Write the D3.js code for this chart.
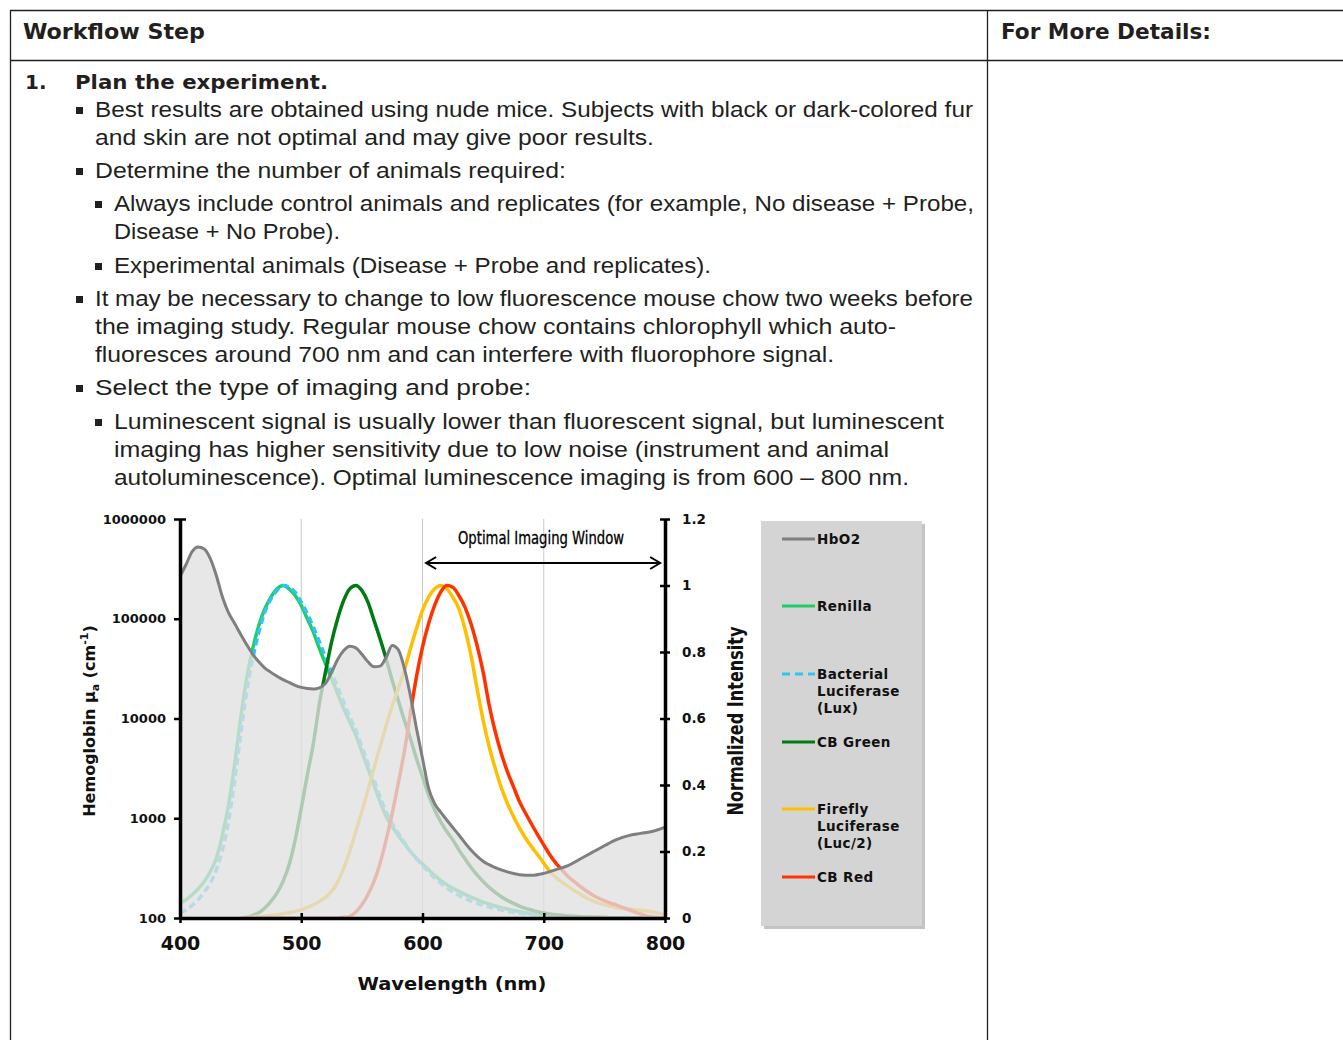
<!DOCTYPE html>
<html>
<head>
<meta charset="utf-8">
<script src="https://cdn.jsdelivr.net/npm/d3@7"></script>
<style>
  body { margin: 0; background: #fff; }
</style>
</head>
<body>
<svg id="page" width="1343" height="1040"></svg>
<script>
// ---- document text ----
const headerLabels = ["Workflow Step", "For More Details:"];
const stepNumber = "1.";
const stepTitle = "Plan the experiment.";
const bodyLines = [
  "Best results are obtained using nude mice. Subjects with black or dark-colored fur",
  "and skin are not optimal and may give poor results.",
  "Determine the number of animals required:",
  "Always include control animals and replicates (for example, No disease + Probe,",
  "Disease + No Probe).",
  "Experimental animals (Disease + Probe and replicates).",
  "It may be necessary to change to low fluorescence mouse chow two weeks before",
  "the imaging study. Regular mouse chow contains chlorophyll which auto-",
  "fluoresces around 700 nm and can interfere with fluorophore signal.",
  "Select the type of imaging and probe:",
  "Luminescent signal is usually lower than fluorescent signal, but luminescent",
  "imaging has higher sensitivity due to low noise (instrument and animal",
  "autoluminescence). Optimal luminescence imaging is from 600 \u2013 800 nm."
];
// bullet level of each line (0 = continuation line)
const bodyBullets = [1, 0, 1, 2, 0, 2, 1, 0, 0, 1, 2, 0, 0];

// ---- chart data ----
const xTicks = [400, 500, 600, 700, 800];
const gridWavelengths = [500, 600, 700];
const absTicks = [100, 1000, 10000, 100000, 1000000];
const intTicks = [0, 0.2, 0.4, 0.6, 0.8, 1, 1.2];
const intTickLabels = ["0", "0.2", "0.4", "0.6", "0.8", "1", "1.2"];

// HbO2 absorption (cm^-1), log axis
const hbo2Wl = [400,405,410,415,420,425,430,435,440,445,450,455,460,465,470,475,480,485,490,495,
  500,505,510,515,520,525,530,535,540,545,550,555,560,565,570,575,580,585,590,595,
  600,605,610,615,620,630,640,650,660,670,680,690,700,710,720,730,740,750,760,770,780,790,800];
const hbo2Abs = [266000,350000,470000,524000,500000,400000,270000,165000,115000,90000,70000,55000,44000,37000,32000,29000,26500,24500,23000,21500,
  20500,20000,19800,20300,22500,29000,39000,48000,53000,51000,44000,37000,33000,33500,41000,54000,49000,32000,17000,8000,
  4000,2000,1400,1150,960,680,480,370,320,290,272,268,280,305,335,390,455,530,610,670,705,740,815];

// emission spectra (normalized), sampled every 5 nm
const emWl = [400,405,410,415,420,425,430,435,440,445,450,455,460,465,470,475,480,485,490,495,
  500,505,510,515,520,525,530,535,540,545,550,555,560,565,570,575,580,585,590,595,
  600,605,610,615,620,625,630,635,640,645,650,655,660,665,670,675,680,685,690,695,
  700,705,710,715,720,725,730,735,740,745,750,755,760,765,770,775,780,785,790,795,800];
const renilla = [0.045,0.055,0.07,0.088,0.11,0.14,0.18,0.25,0.34,0.46,0.6,0.72,0.81,0.88,0.93,0.965,0.99,1.0,0.99,0.97,
  0.94,0.9,0.86,0.81,0.765,0.72,0.675,0.63,0.59,0.55,0.5,0.45,0.4,0.35,0.305,0.275,0.248,0.224,0.2,0.18,
  0.162,0.145,0.128,0.113,0.1,0.09,0.08,0.071,0.063,0.055,0.048,0.042,0.036,0.031,0.027,0.023,0.019,0.016,0.013,0.011,
  0.009,0.007,0.006,0.005,0.004,0.003,0.003,0.002,0.002,0.002,0.001,0.001,0.001,0.001,0.001,0,0,0,0,0,0];
const lux = [0.015,0.025,0.038,0.055,0.078,0.105,0.145,0.205,0.29,0.41,0.55,0.68,0.78,0.86,0.92,0.96,0.985,1.0,0.995,0.98,
  0.95,0.915,0.875,0.83,0.785,0.74,0.695,0.65,0.605,0.565,0.515,0.465,0.415,0.365,0.32,0.285,0.255,0.228,0.2,0.178,
  0.158,0.138,0.12,0.104,0.09,0.078,0.068,0.059,0.051,0.044,0.038,0.033,0.028,0.024,0.02,0.017,0.014,0.012,0.01,0.008,
  0.006,0.005,0.004,0.003,0.003,0.002,0.002,0.001,0.001,0.001,0,0,0,0,0,0,0,0,0,0,0];
const cbGreen = [null,null,null,null,null,null,null,null,null,null,0,0.002,0.008,0.016,0.03,0.05,0.075,0.11,0.16,0.235,
  0.33,0.43,0.525,0.645,0.74,0.83,0.9,0.955,0.99,1.0,0.985,0.95,0.895,0.84,0.78,0.715,0.655,0.595,0.54,0.48,
  0.425,0.37,0.325,0.29,0.26,0.235,0.205,0.178,0.152,0.13,0.11,0.092,0.077,0.064,0.053,0.044,0.036,0.029,0.024,0.019,
  0.015,0.012,0.01,0.008,0.006,0.005,0.004,0.003,0.003,0.002,0.002,0.001,0.001,0,0,0,0,0,0,0,0];
const firefly = [null,null,null,null,null,null,null,null,null,null,0,0.002,0.003,0.005,0.006,0.008,0.01,0.013,0.016,0.02,
  0.025,0.032,0.04,0.05,0.062,0.08,0.108,0.15,0.2,0.26,0.32,0.385,0.45,0.515,0.578,0.638,0.69,0.745,0.81,0.87,
  0.925,0.965,0.99,1.0,0.99,0.965,0.93,0.87,0.79,0.69,0.595,0.515,0.45,0.392,0.345,0.305,0.27,0.24,0.214,0.19,
  0.165,0.14,0.122,0.108,0.095,0.083,0.072,0.061,0.052,0.045,0.04,0.035,0.031,0.029,0.027,0.025,0.023,0.021,0.018,0.014,0.01];
const cbRed = [null,null,null,null,null,null,null,null,null,null,0,0,0,0,0,0,0,0,0,0,
  0,0,0,0,0,0,0,0.002,0.005,0.018,0.04,0.07,0.11,0.165,0.235,0.315,0.405,0.5,0.615,0.725,
  0.815,0.885,0.94,0.98,1.0,0.995,0.97,0.935,0.885,0.82,0.74,0.64,0.56,0.495,0.44,0.395,0.35,0.315,0.282,0.25,
  0.22,0.19,0.165,0.145,0.125,0.11,0.095,0.082,0.07,0.06,0.052,0.045,0.039,0.032,0.025,0.018,0.012,0.006,0.003,0.001,0];

const seriesNames = ["HbO2", "Renilla", "Bacterial Luciferase (Lux)", "CB Green", "Firefly Luciferase (Luc/2)", "CB Red"];
const legendLines = [["HbO2"], ["Renilla"], ["Bacterial", "Luciferase", "(Lux)"], ["CB Green"], ["Firefly", "Luciferase", "(Luc/2)"], ["CB Red"]];
const seriesColors = ["#7f7f7f", "#1fcc68", "#2ec5f5", "#007a12", "#ffbf00", "#ff3300"];

// ---- page ----
const svg = d3.select("#page");
svg.append("rect").attr("width", 1343).attr("height", 1040).attr("fill", "#fff");

const ink = "#231f20";
const borders = svg.append("g").attr("stroke", ink).attr("stroke-width", 1.3);
borders.append("line").attr("x1", 10).attr("x2", 1343).attr("y1", 10.5).attr("y2", 10.5);
borders.append("line").attr("x1", 10).attr("x2", 1343).attr("y1", 60.5).attr("y2", 60.5);
borders.append("line").attr("x1", 10.5).attr("x2", 10.5).attr("y1", 10).attr("y2", 1040);
borders.append("line").attr("x1", 987.5).attr("x2", 987.5).attr("y1", 10).attr("y2", 1040);

const narrow = "'Liberation Sans Narrow', 'Arial Narrow', 'DejaVu Sans Condensed', sans-serif";
svg.append("text").attr("x", 23).attr("y", 39).attr("font-family", narrow).attr("font-weight", "bold")
  .attr("font-size", 22).attr("fill", ink).attr("textLength", 182).attr("lengthAdjust", "spacingAndGlyphs")
  .text(headerLabels[0]);
svg.append("text").attr("x", 1001).attr("y", 39).attr("font-family", narrow).attr("font-weight", "bold")
  .attr("font-size", 22).attr("fill", ink).attr("textLength", 210).attr("lengthAdjust", "spacingAndGlyphs")
  .text(headerLabels[1]);

svg.append("text").attr("x", 25).attr("y", 89).attr("font-family", "'DejaVu Sans', Verdana, sans-serif")
  .attr("font-weight", "bold").attr("font-size", 20).attr("fill", ink).text(stepNumber);
svg.append("text").attr("x", 75).attr("y", 89).attr("font-family", "'DejaVu Sans', Verdana, sans-serif")
  .attr("font-weight", "bold").attr("font-size", 20).attr("fill", ink)
  .attr("textLength", 253).attr("lengthAdjust", "spacingAndGlyphs").text(stepTitle);

// layout of body lines: [x, baseline, width]
const bodyLayout = [
  [95, 117, 878], [95, 145, 559], [95, 178, 471], [114, 211, 860], [114, 239, 226], [114, 273, 597],
  [95, 306, 878], [95, 334, 801], [95, 362, 739], [95, 395, 436], [114, 429, 830], [114, 457, 775], [114, 485, 795]
];
const body = svg.append("g").attr("font-family", "'Liberation Sans', Arial, sans-serif")
  .attr("font-size", 21.5).attr("fill", ink);
bodyLines.forEach((t, i) => {
  const [lx, ly, lw] = bodyLayout[i];
  body.append("text").attr("x", lx).attr("y", ly).attr("textLength", lw)
    .attr("lengthAdjust", "spacingAndGlyphs").text(t);
  if (bodyBullets[i]) {
    body.append("rect").attr("x", lx - 19).attr("y", ly - 10).attr("width", 7).attr("height", 7).attr("fill", ink);
  }
});

// ---- chart ----
const x = d3.scaleLinear().domain([400, 800]).range([180, 665]);
const yAbs = d3.scaleLog().domain([100, 1000000]).range([918, 519]);
const yInt = d3.scaleLinear().domain([0, 1.2]).range([918, 519]);
const bold = "'DejaVu Sans', Verdana, sans-serif";

const chart = svg.append("g");

chart.selectAll(".grid").data(gridWavelengths).join("line")
  .attr("class", "grid")
  .attr("x1", d => x(d)).attr("x2", d => x(d))
  .attr("y1", yInt(1.2)).attr("y2", yInt(0))
  .attr("stroke", "#c8c8c8").attr("stroke-width", 1);

const hbo2 = hbo2Wl.map((w, i) => ({ w, v: hbo2Abs[i] }));
const emission = [renilla, lux, cbGreen, firefly, cbRed].map((vals, k) => ({
  name: seriesNames[k + 1],
  color: seriesColors[k + 1],
  dashed: k === 1,
  pts: emWl.map((w, i) => ({ w, v: vals[i] }))
}));

const emLine = d3.line()
  .defined(d => d.v !== null)
  .x(d => x(d.w)).y(d => yInt(d.v))
  .curve(d3.curveMonotoneX);

chart.selectAll(".em").data(emission).join("path")
  .attr("class", "em")
  .attr("d", d => emLine(d.pts))
  .attr("fill", "none")
  .attr("stroke", d => d.color)
  .attr("stroke-width", 3.5)
  .attr("stroke-dasharray", d => d.dashed ? "7,4" : null);

// absorption area sits over the emission curves, washing them out
const hbArea = d3.area()
  .x(d => x(d.w)).y0(yAbs(100)).y1(d => yAbs(d.v))
  .curve(d3.curveMonotoneX);
chart.append("path").attr("d", hbArea(hbo2)).attr("fill", "#e0e0e0").attr("fill-opacity", 0.78);

const hbLine = d3.line().x(d => x(d.w)).y(d => yAbs(d.v)).curve(d3.curveMonotoneX);
chart.append("path").attr("d", hbLine(hbo2)).attr("fill", "none")
  .attr("stroke", seriesColors[0]).attr("stroke-width", 3);

// axes
const leftAxis = chart.append("g").attr("transform", `translate(${x(400)},0)`)
  .call(d3.axisLeft(yAbs).tickValues(absTicks).tickFormat(d3.format("d")).tickSize(6).tickSizeOuter(0).tickPadding(8));
const rightAxis = chart.append("g").attr("transform", `translate(${x(800)},0)`)
  .call(d3.axisRight(yInt).tickValues(intTicks).tickFormat((d, i) => intTickLabels[i]).tickSize(5).tickSizeOuter(0).tickPadding(12));
const bottomAxis = chart.append("g").attr("transform", `translate(0,${yInt(0)})`)
  .call(d3.axisBottom(x).tickValues(xTicks).tickSize(5).tickSizeOuter(0).tickPadding(14));

[leftAxis, rightAxis, bottomAxis].forEach(a => {
  a.select(".domain").attr("stroke", "#000").attr("stroke-width", 3.5);
  a.selectAll(".tick line").attr("stroke", "#000").attr("stroke-width", 2.5);
  a.selectAll(".tick text").attr("font-family", bold).attr("font-weight", "bold").attr("fill", "#111");
});
leftAxis.selectAll(".tick text").attr("font-size", 13);
rightAxis.selectAll(".tick text").attr("font-size", 13.5);
rightAxis.selectAll(".tick line").attr("x1", -5);
bottomAxis.selectAll(".tick text").attr("font-size", 19);
bottomAxis.selectAll(".tick line").attr("y1", -5);
leftAxis.selectAll(".tick line").filter(d => d === 1000000).attr("x2", 6).attr("x1", -6);

// axis titles
chart.append("text").attr("x", 452).attr("y", 990).attr("text-anchor", "middle")
  .attr("font-family", bold).attr("font-weight", "bold").attr("font-size", 18).attr("fill", "#111")
  .attr("textLength", 189).attr("lengthAdjust", "spacingAndGlyphs").text("Wavelength (nm)");

const yl = chart.append("text").attr("transform", "translate(95,721) rotate(-90)").attr("text-anchor", "middle")
  .attr("font-family", bold).attr("font-weight", "bold").attr("font-size", 16).attr("fill", "#111");
yl.append("tspan").text("Hemoglobin \u03bc");
yl.append("tspan").attr("font-size", 11).attr("dy", 4).text("a");
yl.append("tspan").attr("dy", -4).text(" (cm");
yl.append("tspan").attr("font-size", 11).attr("dy", -7).text("-1");
yl.append("tspan").attr("dy", 7).text(")");

chart.append("text").attr("transform", "translate(743,721) rotate(-90)").attr("text-anchor", "middle")
  .attr("font-family", narrow).attr("font-weight", "bold").attr("font-size", 22).attr("fill", "#111")
  .attr("textLength", 189).attr("lengthAdjust", "spacingAndGlyphs").text("Normalized Intensity");

// optimal imaging window
chart.append("text").attr("x", 541).attr("y", 544).attr("text-anchor", "middle")
  .attr("font-family", narrow).attr("font-size", 17).attr("fill", "#000").attr("stroke", "#000").attr("stroke-width", 0.3)
  .attr("textLength", 166).attr("lengthAdjust", "spacingAndGlyphs").text("Optimal Imaging Window");
const ax1 = x(603), ax2 = x(796), ay = 563;
chart.append("path")
  .attr("d", `M${ax1},${ay}H${ax2}M${ax1 + 10},${ay - 6}L${ax1},${ay}L${ax1 + 10},${ay + 6}M${ax2 - 10},${ay - 6}L${ax2},${ay}L${ax2 - 10},${ay + 6}`)
  .attr("fill", "none").attr("stroke", "#000").attr("stroke-width", 2);

// legend
const lg = chart.append("g").attr("transform", "translate(761,521)");
lg.append("rect").attr("x", 3).attr("y", 3).attr("width", 161).attr("height", 405).attr("fill", "#c4c4c4");
lg.append("rect").attr("width", 161).attr("height", 405).attr("fill", "#d4d4d4");
const legendY = [18, 85, 153, 221, 288, 356];
legendLines.forEach((lines, i) => {
  const row = lg.append("g").attr("transform", `translate(0,${legendY[i]})`);
  row.append("line").attr("x1", 21).attr("x2", 54).attr("y1", 0).attr("y2", 0)
    .attr("stroke", seriesColors[i]).attr("stroke-width", 3)
    .attr("stroke-dasharray", i === 2 ? "8,5" : null);
  const t = row.append("text").attr("font-family", bold).attr("font-weight", "bold")
    .attr("font-size", 13.5).attr("fill", "#111").attr("letter-spacing", 0.4);
  lines.forEach((s, j) => t.append("tspan").attr("x", 56).attr("y", 5 + j * 17).text(s));
});
</script>
</body>
</html>
